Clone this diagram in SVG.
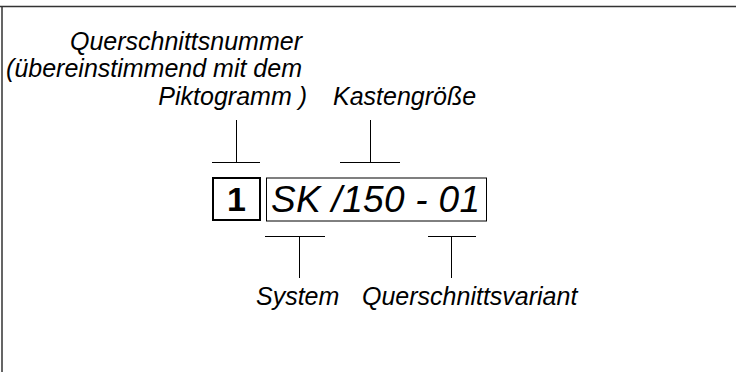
<svg xmlns="http://www.w3.org/2000/svg" width="736" height="372" viewBox="0 0 736 372">
  <style>
    .lbl { font-family: "Liberation Sans", Arial, sans-serif; font-style: italic; font-size: 25px; fill: #000; }
    .ld { stroke: #000; stroke-width: 1; fill: none; }
    .frame { stroke: #333; stroke-width: 1.5; fill: none; }
  </style>
  <rect width="736" height="372" fill="#fff"/>
  <path class="frame" d="M0 6.5 H736 M2 6.5 V372"/>

  <g id="label-querschnittsnummer">
    <text class="lbl" text-anchor="end" x="302" y="50">Querschnittsnummer</text>
    <text class="lbl" text-anchor="end" x="302" y="77">(übereinstimmend mit dem</text>
    <text class="lbl" text-anchor="end" x="307" y="105">Piktogramm )</text>
  </g>
  <g id="label-kastengroesse">
    <text class="lbl" x="333" y="105">Kastengröße</text>
  </g>

  <g id="box-nummer">
    <rect x="213" y="178" width="47" height="42" fill="#fff" stroke="#000" stroke-width="2"/>
    <text x="236.5" y="211" text-anchor="middle" font-family="'Liberation Sans', Arial, sans-serif" font-weight="bold" font-size="34">1</text>
  </g>
  <g id="box-code">
    <rect x="266.5" y="178" width="220" height="43" fill="#fff" stroke="#000" stroke-width="1"/>
    <text x="271" y="212" textLength="209" lengthAdjust="spacing" font-family="'Liberation Sans', Arial, sans-serif" font-style="italic" font-size="37">SK /150 - 01</text>
  </g>

  <g id="label-system">
    <text class="lbl" x="256" y="305">System</text>
  </g>
  <g id="label-variante">
    <text class="lbl" x="362" y="305">Querschnittsvariant</text>
  </g>

  <g id="connectors">
    <path class="ld" d="M236.5 120 V162.5 M212 162.5 H260"/>
    <path class="ld" d="M370.5 120 V162.5 M340 162.5 H400"/>
    <path class="ld" d="M265 236.5 H325 M299.5 236.5 V278"/>
    <path class="ld" d="M428 236.5 H476 M451.5 236.5 V278"/>
  </g>
</svg>
